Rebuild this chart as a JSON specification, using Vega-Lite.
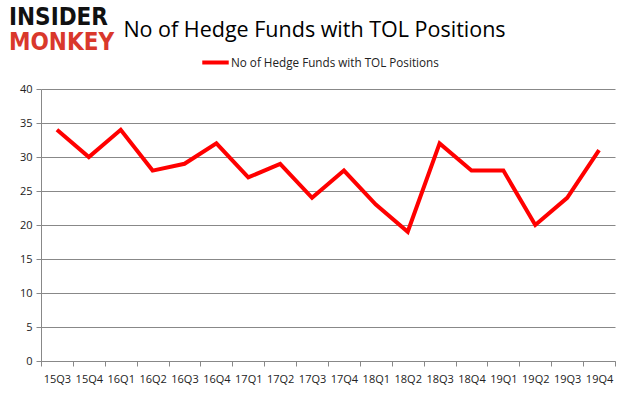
{
  "$schema": "https://vega.github.io/schema/vega-lite/v6.json",
  "autosize": {"type": "none"},
  "padding": {"left": 41, "top": 89, "right": 21, "bottom": 44},
  "width": 574,
  "height": 272,
  "background": "white",
  "title": {
    "text": "INSIDER",
    "subtitle": "MONKEY",
    "anchor": "start",
    "frame": "group",
    "dx": -32,
    "offset": -36,
    "font": "DejaVu Sans Condensed",
    "fontSize": 24,
    "fontWeight": "bold",
    "color": "#111111",
    "subtitleFont": "DejaVu Sans Condensed",
    "subtitleFontSize": 24,
    "subtitleFontWeight": "bold",
    "subtitleColor": "#d9382c",
    "subtitlePadding": 1
  },
  "data": {
    "values": [
      {"q": "15Q3", "v": 34, "s": "No of Hedge Funds with TOL Positions"},
      {"q": "15Q4", "v": 30, "s": "No of Hedge Funds with TOL Positions"},
      {"q": "16Q1", "v": 34, "s": "No of Hedge Funds with TOL Positions"},
      {"q": "16Q2", "v": 28, "s": "No of Hedge Funds with TOL Positions"},
      {"q": "16Q3", "v": 29, "s": "No of Hedge Funds with TOL Positions"},
      {"q": "16Q4", "v": 32, "s": "No of Hedge Funds with TOL Positions"},
      {"q": "17Q1", "v": 27, "s": "No of Hedge Funds with TOL Positions"},
      {"q": "17Q2", "v": 29, "s": "No of Hedge Funds with TOL Positions"},
      {"q": "17Q3", "v": 24, "s": "No of Hedge Funds with TOL Positions"},
      {"q": "17Q4", "v": 28, "s": "No of Hedge Funds with TOL Positions"},
      {"q": "18Q1", "v": 23, "s": "No of Hedge Funds with TOL Positions"},
      {"q": "18Q2", "v": 19, "s": "No of Hedge Funds with TOL Positions"},
      {"q": "18Q3", "v": 32, "s": "No of Hedge Funds with TOL Positions"},
      {"q": "18Q4", "v": 28, "s": "No of Hedge Funds with TOL Positions"},
      {"q": "19Q1", "v": 28, "s": "No of Hedge Funds with TOL Positions"},
      {"q": "19Q2", "v": 20, "s": "No of Hedge Funds with TOL Positions"},
      {"q": "19Q3", "v": 24, "s": "No of Hedge Funds with TOL Positions"},
      {"q": "19Q4", "v": 31, "s": "No of Hedge Funds with TOL Positions"}
    ]
  },
  "mark": {"type": "line", "strokeWidth": 4, "strokeJoin": "miter", "strokeCap": "butt"},
  "encoding": {
    "x": {
      "field": "q",
      "type": "ordinal",
      "sort": null,
      "scale": {"type": "band", "paddingInner": 0, "paddingOuter": 0},
      "axis": {
        "title": null,
        "labelAngle": 0,
        "labelFont": "Open Sans",
        "labelFontSize": 11,
        "labelColor": "#222222",
        "labelPadding": 7,
        "tickBand": "extent",
        "tickSize": 5,
        "tickColor": "#888888",
        "domainColor": "#888888",
        "grid": false
      }
    },
    "y": {
      "field": "v",
      "type": "quantitative",
      "scale": {"domain": [0, 40]},
      "axis": {
        "values": [0, 5, 10, 15, 20, 25, 30, 35, 40],
        "title": "No of Hedge Funds with TOL Positions",
        "titleAngle": 0,
        "titleX": 273,
        "titleY": -53,
        "titleAlign": "center",
        "titleBaseline": "alphabetic",
        "titleFont": "Open Sans",
        "titleFontSize": 21.5,
        "titleFontWeight": "normal",
        "titleColor": "#000000",
        "labelFont": "Open Sans",
        "labelFontSize": 11,
        "labelColor": "#222222",
        "labelPadding": 4,
        "tickSize": 5,
        "tickColor": "#888888",
        "domainColor": "#888888",
        "gridColor": "#888888",
        "gridWidth": 1
      }
    },
    "color": {
      "field": "s",
      "type": "nominal",
      "scale": {"range": ["#ff0000"]},
      "legend": {
        "title": null,
        "orient": "none",
        "legendX": 159,
        "legendY": -42,
        "symbolType": "stroke",
        "symbolStrokeWidth": 4,
        "symbolSize": 700,
        "labelFont": "Open Sans",
        "labelFontSize": 11.7,
        "labelColor": "#222222",
        "labelOffset": 0,
        "labelLimit": 0,
        "padding": 0
      }
    }
  },
  "config": {"view": {"stroke": null}}
}
